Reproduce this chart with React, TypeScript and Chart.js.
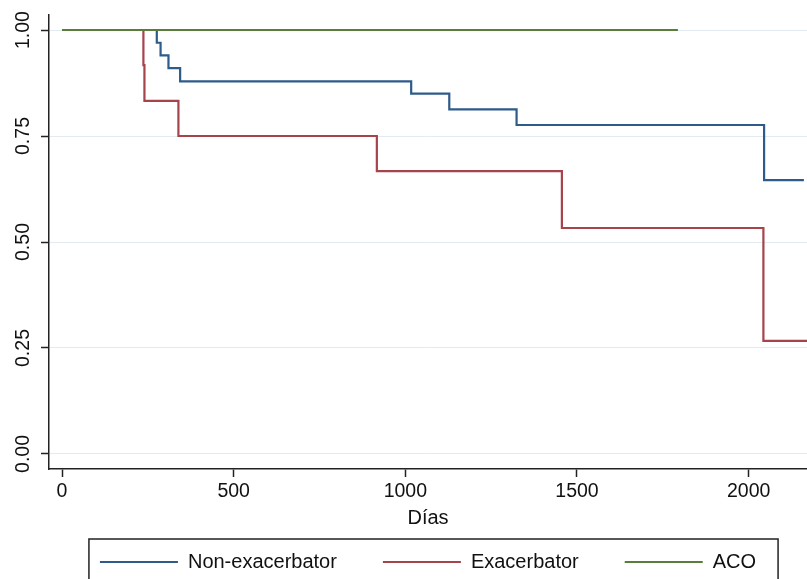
import React, { useEffect, useRef } from "react";
import { Chart, registerables } from "chart.js";

Chart.register(...registerables);

// Kaplan–Meier estimates (days, survival)
const NONEXAC_DAYS = [0, 276, 287, 310, 344, 1017, 1128, 1324, 2045, 2161];
const NONEXAC_SURV = [1, 0.97, 0.94, 0.91, 0.879, 0.85, 0.813, 0.776, 0.646, 0.646];
const EXAC_DAYS = [0, 237, 240, 339, 917, 1456, 2043, 2175];
const EXAC_SURV = [1, 0.917, 0.833, 0.75, 0.667, 0.533, 0.267, 0.267];
const ACO_DAYS = [0, 1794];
const ACO_SURV = [1, 1];

const SERIES_LABELS = ["Non-exacerbator", "Exacerbator", "ACO"];
const SERIES_COLORS = ["#2d5b8a", "#a6434b", "#5b7d3a"];
const X_TICKS = [0, 500, 1000, 1500, 2000];
const Y_TICKS = [0, 0.25, 0.5, 0.75, 1];
const X_TITLE = "Días";

const FONT = "'Liberation Sans', Arial, Helvetica, sans-serif";

function toPoints(xs: number[], ys: number[]) {
  return xs.map((x, i) => ({ x, y: ys[i] }));
}

export default function App() {
  const ref = useRef<HTMLCanvasElement | null>(null);

  useEffect(() => {
    const canvas = ref.current;
    if (!canvas) return;

    const legendBorder = {
      id: "legendBorder",
      afterDraw(chart: any) {
        const lg = chart.legend;
        if (!lg || !lg.legendHitBoxes || !lg.legendHitBoxes.length) return;
        const hb = lg.legendHitBoxes;
        const left = Math.min(...hb.map((h: any) => h.left)) - 11;
        const right = Math.max(...hb.map((h: any) => h.left + h.width)) + 22;
        const cy = hb[0].top + hb[0].height / 2;
        const ctx = chart.ctx;
        ctx.save();
        ctx.strokeStyle = "#222";
        ctx.lineWidth = 1.5;
        ctx.strokeRect(left, cy - 23, right - left, 60);
        ctx.restore();
      },
    };

    const series = [
      toPoints(NONEXAC_DAYS, NONEXAC_SURV),
      toPoints(EXAC_DAYS, EXAC_SURV),
      toPoints(ACO_DAYS, ACO_SURV),
    ];

    const chart = new Chart(canvas, {
      type: "line",
      data: {
        datasets: series.map((pts, i) => ({
          label: SERIES_LABELS[i],
          data: pts,
          borderColor: SERIES_COLORS[i],
          backgroundColor: SERIES_COLORS[i],
          borderWidth: 2.2,
          stepped: "before" as const,
          fill: false,
          pointRadius: 0,
          pointHoverRadius: 0,
          order: i === 2 ? 0 : i + 1,
        })),
      },
      options: {
        animation: false,
        responsive: false,
        maintainAspectRatio: false,
        devicePixelRatio: 1,
        layout: { padding: { top: 15, left: 0, right: 0, bottom: 0 } },
        plugins: {
          tooltip: { enabled: false },
          legend: {
            display: true,
            position: "bottom",
            align: "center",
            fullSize: false,
            labels: {
              usePointStyle: true,
              pointStyle: "line",
              pointStyleWidth: 78,
              padding: 46,
              color: "#111",
              font: { family: FONT, size: 20 },
              sort: (a: any, b: any) => a.datasetIndex - b.datasetIndex,
            },
          },
        },
        scales: {
          x: {
            type: "linear",
            min: -38,
            max: 2170,
            afterBuildTicks: (s: any) => {
              s.ticks = X_TICKS.map((v) => ({ value: v }));
            },
            afterFit: (s: any) => {
              s.height = 37;
            },
            ticks: {
              font: { family: FONT, size: 19.5 },
              color: "#111",
              padding: 3,
              maxRotation: 0,
              autoSkip: false,
              callback: (v: any) => String(v),
            },
            grid: {
              display: true,
              drawOnChartArea: false,
              drawTicks: true,
              tickLength: 8,
              tickColor: "#222",
              tickWidth: 1.5,
            },
            border: { display: true, color: "#222", width: 1.5 },
            title: {
              display: true,
              text: X_TITLE,
              color: "#111",
              font: { family: FONT, size: 20 },
              padding: { top: 0, bottom: -24 },
            },
          },
          y: {
            type: "linear",
            min: -0.0354,
            max: 1.0354,
            afterBuildTicks: (s: any) => {
              s.ticks = Y_TICKS.map((v) => ({ value: v }));
            },
            afterFit: (s: any) => {
              s.width = 49;
            },
            ticks: {
              font: { family: FONT, size: 19.5 },
              color: "#111",
              padding: -2,
              minRotation: 90,
              maxRotation: 90,
              crossAlign: "center",
              autoSkip: false,
              callback: (v: any) => Number(v).toFixed(2),
            },
            grid: {
              color: "#e3ebf2",
              lineWidth: 1,
              tickColor: "#222",
              tickWidth: 1.5,
              tickLength: 8,
            },
            border: { display: true, color: "#222", width: 1.5 },
          },
        },
      },
      plugins: [legendBorder],
    } as any);

    return () => chart.destroy();
  }, []);

  return (
    <div
      style={{
        position: "fixed",
        left: 0,
        top: 0,
        width: 807,
        height: 579,
        overflow: "hidden",
        background: "#fff",
      }}
    >
      <canvas ref={ref} width={807} height={582} style={{ display: "block", width: 807, height: 582 }} />
    </div>
  );
}
